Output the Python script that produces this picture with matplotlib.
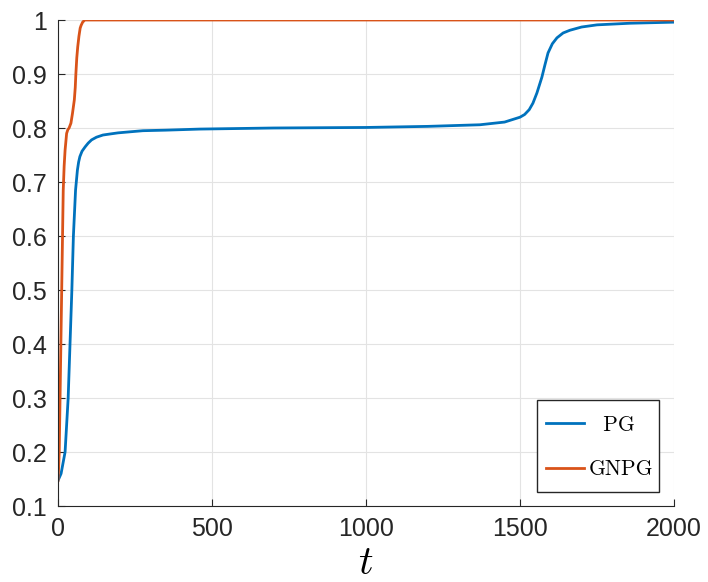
import numpy as np
import matplotlib
matplotlib.use('Agg')
import matplotlib.pyplot as plt
from matplotlib.patches import Rectangle
from matplotlib.ticker import FuncFormatter

# values
t_pg = [0, 10, 23, 33, 45, 50, 57, 63, 67, 71, 78, 88, 98, 109, 125, 146, 170,
        195, 235, 276, 350, 460, 700, 1000, 1200, 1370, 1450, 1500, 1515, 1530,
        1542, 1555, 1571, 1581, 1591, 1605, 1620, 1640, 1662, 1700, 1750, 1857,
        2000]
v_pg = [0.147, 0.16, 0.2, 0.3, 0.5, 0.6, 0.685, 0.722, 0.737, 0.747, 0.757,
        0.765, 0.772, 0.778, 0.783, 0.787, 0.789, 0.791, 0.793, 0.795, 0.796,
        0.798, 0.800, 0.801, 0.803, 0.806, 0.811, 0.820, 0.825, 0.834, 0.846,
        0.865, 0.894, 0.917, 0.939, 0.956, 0.967, 0.976, 0.981, 0.987, 0.991,
        0.994, 0.996]

t_gnpg = [0, 2, 4, 8, 12, 17, 20, 23, 28, 32, 36, 42, 47, 53, 56, 58, 61, 64,
          68, 72, 75, 80, 87, 100, 500, 1000, 1500, 2000]
v_gnpg = [0.147, 0.17, 0.2, 0.35, 0.5, 0.685, 0.73, 0.759, 0.79, 0.797, 0.8,
          0.809, 0.827, 0.852, 0.875, 0.9, 0.93, 0.95, 0.97, 0.985, 0.99, 0.996,
          1.0, 1.0, 1.0, 1.0, 1.0, 1.0]

x_ticks = [0, 500, 1000, 1500, 2000]
y_ticks = [0.1, 0.2, 0.3, 0.4, 0.5, 0.6, 0.7, 0.8, 0.9, 1.0]

BLUE = '#0072BD'
ORANGE = '#D95319'
DARK = '#262626'

plt.rcParams['font.family'] = 'Liberation Sans'
plt.rcParams['mathtext.fontset'] = 'cm'

fig = plt.figure(figsize=(7.08, 5.82), dpi=100)
ax = fig.add_axes([58/708, 1-506/582, 616/708, 486/582])

ax.plot(t_pg, v_pg, color=BLUE, lw=2.0, label='  PG')
ax.plot(t_gnpg, v_gnpg, color=ORANGE, lw=2.0, label='GNPG')

ax.set_xlim(0, 2000)
ax.set_ylim(0.1, 1.0)
ax.set_xticks(x_ticks)
ax.set_yticks(y_ticks)
ax.yaxis.set_major_formatter(FuncFormatter(lambda v, p: '%g' % round(v, 2)))
ax.tick_params(direction='in', length=5, width=0.8, colors=DARK,
               labelsize=18, pad=8, top=False, right=False)
ax.grid(True, color='#e3e3e3', lw=0.8)
ax.set_axisbelow(True)
for s in ('top', 'right'):
    ax.spines[s].set_visible(False)
for s in ('left', 'bottom'):
    ax.spines[s].set_color(DARK)
    ax.spines[s].set_linewidth(0.8)

ax.set_xlabel('$t$', fontsize=29, labelpad=2, color='black')

# legend box (MATLAB legend has more vertical than horizontal padding)
ax.add_patch(Rectangle((0.777, 0.029), 0.198, 0.189, transform=ax.transAxes,
                       facecolor='white', edgecolor=DARK, lw=1.0, zorder=4))
leg = ax.legend(loc='center', bbox_to_anchor=(0.879, 0.121),
                borderaxespad=0, frameon=False, handlelength=1.8,
                handletextpad=0.2, labelspacing=1.15, borderpad=0.0,
                prop={'family': 'cmr10', 'size': 15.5})
leg.set_zorder(5)
for h in leg.get_lines():
    h.set_linewidth(2.0)

fig.savefig('out.png', dpi=100)
